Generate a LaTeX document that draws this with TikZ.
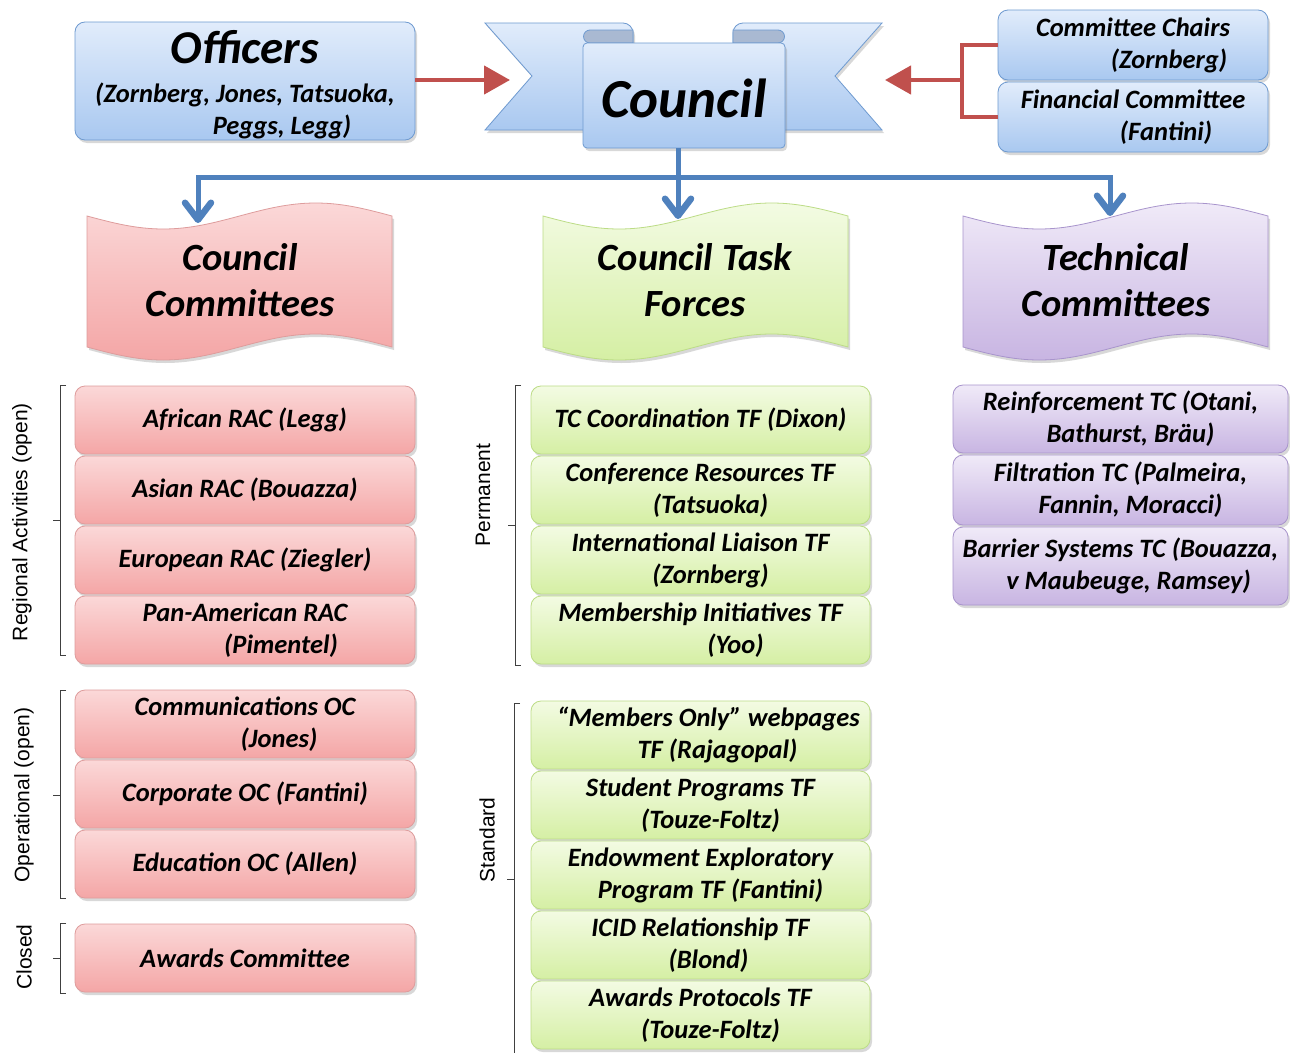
\documentclass[tikz,border=0pt]{standalone}
\usepackage{fontspec}
\setmainfont{Carlito}
\newfontfamily\arialf{Liberation Sans}
\usetikzlibrary{arrows.meta,shadows}
\definecolor{bluetop}{HTML}{E1ECFB}
\definecolor{bluebot}{HTML}{A9C8F0}
\definecolor{blueline}{HTML}{6E9AD0}
\definecolor{folddark}{HTML}{A9B9D2}
\definecolor{pinktop}{HTML}{FBD8D8}
\definecolor{pinkbot}{HTML}{F4A6A6}
\definecolor{pinkline}{HTML}{DE9C9C}
\definecolor{greentop}{HTML}{F3FBE3}
\definecolor{greenbot}{HTML}{D5EFA4}
\definecolor{greenline}{HTML}{BCDC86}
\definecolor{purptop}{HTML}{F0EAF8}
\definecolor{purpbot}{HTML}{C8B5E2}
\definecolor{purpline}{HTML}{A894CC}
\definecolor{arrred}{HTML}{C0504D}
\definecolor{arrblue}{HTML}{4F81BD}
\definecolor{brk}{HTML}{404040}
\tikzset{
 bfi/.style={font=\fontsize{26.5}{32}\selectfont\bfseries\itshape},
 shad/.style={drop shadow={shadow xshift=2pt,shadow yshift=-3pt,opacity=0.3}},
 tbox/.style={rounded corners=10pt,line width=0.8pt,align=center,inner sep=0pt,bfi,shad},
 bluebox/.style={tbox,draw=blueline,top color=bluetop,bottom color=bluebot},
 pinkbox/.style={tbox,draw=pinkline,top color=pinktop,bottom color=pinkbot,minimum width=340pt,minimum height=68pt},
 greenbox/.style={tbox,draw=greenline,top color=greentop,bottom color=greenbot,minimum width=339pt,minimum height=68pt},
 purpbox/.style={tbox,draw=purpline,top color=purptop,bottom color=purpbot,minimum width=335pt,minimum height=68pt},
 headtext/.style={align=center,font=\fontsize{38.5}{46}\selectfont\bfseries\itshape,inner sep=0pt},
 side/.style={rotate=90,font=\arialf\fontsize{21}{24}\selectfont,inner sep=0pt},
 bracket/.style={draw=brk,line width=0.8pt},
 redline/.style={draw=arrred,line width=4.5pt},
 redarrow/.style={redline,-{Triangle[length=26pt,width=28pt]}},
 blueconn/.style={draw=arrblue,line width=5pt},
 bluearrow/.style={blueconn,-{Straight Barb[length=17pt,width=26pt,line width=6.5pt,round]}},
 bannerpart/.style={draw=blueline,line width=0.8pt,top color=bluetop,bottom color=bluebot},
 foldpart/.style={fill=folddark,draw=blueline,line width=0.8pt},
}
\newcommand\wavehead[2]{%
 \path[draw=#2line,line width=0.8pt,top color=#2top,bottom color=#2bot,shad]
  (#1,216) sin ++(76.25,13) cos ++(76.25,-13) sin ++(76.25,-13) cos ++(76.25,13)
  -- ++(0,131) sin ++(-76.25,-13) cos ++(-76.25,13) sin ++(-76.25,13) cos ++(-76.25,-13) -- cycle;}
\begin{document}
\begin{tikzpicture}[x=1pt,y=-1pt]
\useasboundingbox (0,0) rectangle (1290,1052);
\fill[white] (0,0) rectangle (1290,1052);

% ---- Council banner ----
\path[bannerpart,shad] (485,23) -- (623,23) arc[start angle=-90,end angle=0,radius=10] -- (633,130) -- (485,130) -- (532,76) -- cycle;
\path[bannerpart,shad] (882,23) -- (743,23) arc[start angle=-90,end angle=-180,radius=10] -- (733,130) -- (882,130) -- (835,76) -- cycle;
\filldraw[foldpart] (633,30) -- (590,30) arc[start angle=-90,end angle=-270,radius=6.5] -- (633,43) -- cycle;
\filldraw[foldpart] (733,30) -- (778,30) arc[start angle=-90,end angle=90,radius=6.5] -- (733,43) -- cycle;
\node[bluebox,rounded corners=4pt,minimum width=202pt,minimum height=105pt,font=\fontsize{55}{55}\selectfont\bfseries\itshape] (council) at (684,95.5) {\raisebox{-3pt}[\height][\depth]{Council}};

% ---- top boxes ----
\node[bluebox,minimum width=340pt,minimum height=118pt] (officers) at (245,81)
 {\rule{0pt}{40pt}{\fontsize{47}{47}\selectfont Officers}\\[7pt](Zornberg, Jones, Tatsuoka,\\\hspace*{74pt}Peggs, Legg)};
\node[bluebox,minimum width=270pt,minimum height=70pt] (cc) at (1133,45) {Committee Chairs\\\hspace*{72pt}(Zornberg)};
\node[bluebox,minimum width=270pt,minimum height=70pt] (fc) at (1133,117) {Financial Committee\\\hspace*{66pt}(Fantini)};

% ---- red connectors ----
\coordinate (ltip) at (510,80);
\coordinate (junc) at (962,80);
\coordinate (rtip) at (885,80);
\draw[redarrow] (officers.east |- ltip) -- (ltip);
\draw[redline] (cc.west) -| (junc);
\draw[redline] (fc.west) -| (junc);
\draw[redarrow] (junc) -- (rtip);

% ---- headings ----
\wavehead{87}{pink}
\wavehead{543}{green}
\wavehead{963}{purp}
\node[headtext] (hcc) at (240,280) {Council\\Committees};
\node[headtext] (htf) at (695,280) {Council Task\\Forces};
\node[headtext] (htc) at (1116,280) {Technical\\Committees};

% ---- blue connectors ----
\coordinate (bus) at (678,177);
\coordinate (acc) at (198,223);
\coordinate (atf) at (678,219);
\coordinate (atc) at (1110,216);
\draw[blueconn] ([xshift=-6pt]council.south) -- (bus);
\draw[bluearrow] (bus) -| (acc);
\draw[bluearrow] (bus) -- (atf);
\draw[bluearrow] (bus) -| (atc);

% ---- council committees ----
\node[pinkbox] (afr) at (245,420) {African RAC (Legg)};
\node[pinkbox] (asi) at (245,490) {Asian RAC (Bouazza)};
\node[pinkbox] (eur) at (245,560) {European RAC (Ziegler)};
\node[pinkbox] (pan) at (245,630) {Pan-American RAC\\\hspace*{72pt}(Pimentel)};
\node[pinkbox] (com) at (245,724) {Communications OC\\\hspace*{68pt}(Jones)};
\node[pinkbox] (cor) at (245,794) {Corporate OC (Fantini)};
\node[pinkbox] (edu) at (245,864) {Education OC (Allen)};
\node[pinkbox] (awc) at (245,958) {Awards Committee};

% ---- task forces ----
\node[greenbox] (tcc) at (700.5,420) {TC Coordination TF (Dixon)};
\node[greenbox] (cr) at (700.5,490) {Conference Resources TF\\\hspace*{20pt}(Tatsuoka)};
\node[greenbox] (il) at (700.5,560) {International Liaison TF\\\hspace*{20pt}(Zornberg)};
\node[greenbox] (mi) at (700.5,630) {Membership Initiatives TF\\\hspace*{70pt}(Yoo)};
\node[greenbox] (mo) at (700.5,735) {\hspace*{16pt}“Members Only” webpages\\\hspace*{34pt}TF (Rajagopal)};
\node[greenbox] (sp) at (700.5,805) {Student Programs TF\\\hspace*{20pt}(Touze-Foltz)};
\node[greenbox] (ee) at (700.5,875) {Endowment Exploratory\\\hspace*{20pt}Program TF (Fantini)};
\node[greenbox] (icid) at (700.5,945) {ICID Relationship TF\\\hspace*{16pt}(Blond)};
\node[greenbox] (ap) at (700.5,1015) {Awards Protocols TF\\\hspace*{20pt}(Touze-Foltz)};

% ---- technical committees ----
\node[purpbox] (rtc) at (1120.5,419) {Reinforcement TC (Otani,\\\hspace*{20pt}Bathurst, Bräu)};
\node[purpbox,minimum height=70pt] (ftc) at (1120.5,490) {Filtration TC (Palmeira,\\\hspace*{20pt}Fannin, Moracci)};
\node[purpbox,minimum height=78pt] (btc) at (1120.5,566) {Barrier Systems TC (Bouazza,\\\hspace*{16pt}v Maubeuge, Ramsey)};

% ---- brackets and side labels ----
\draw[bracket] (66,385) -- (60,385) -- (60,655) -- (66,655) (60,520) -- (53,520);
\draw[bracket] (66,690) -- (60,690) -- (60,898) -- (66,898) (60,795) -- (53,795);
\draw[bracket] (66,923) -- (60,923) -- (60,993) -- (66,993) (60,958) -- (53,958);
\draw[bracket] (521,385) -- (515,385) -- (515,665) -- (521,665) (515,525) -- (508,525);
\draw[bracket] (520,703) -- (514,703) -- (514,1056) -- (520,1056) (514,879) -- (507,879);
\node[side] (lreg) at (22,522) {Regional Activities (open)};
\node[side] (lop) at (24,795) {Operational (open)};
\node[side] (lcl) at (24,957) {Closed};
\node[side] (lperm) at (483,495) {Permanent};
\node[side] (lstd) at (487,840) {Standard};
\end{tikzpicture}
\end{document}
